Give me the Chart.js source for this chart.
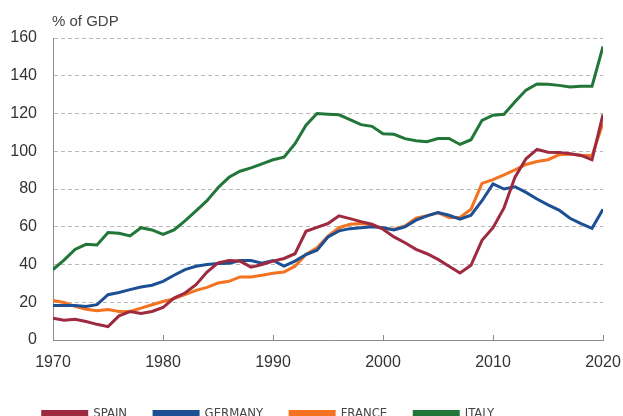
<!DOCTYPE html>
<html>
<head>
<meta charset="utf-8">
<script src="https://cdn.jsdelivr.net/npm/chart.js@4.4.1/dist/chart.umd.min.js"></script>
<style>
  html, body { margin: 0; padding: 0; background: #fff; overflow: hidden; }
  #wrap { width: 623px; height: 430px; position: relative; }
</style>
</head>
<body>
<div id="wrap"><canvas id="debtChart"></canvas></div>
<script>
var years = [];
for (var y = 1970; y <= 2020; y++) { years.push(y); }

var spain = [11.5, 10.5, 11, 9.8, 8.3, 7.1, 12.8, 15.1, 14, 15.1,
  17.2, 22.2, 24.9, 29.3, 36, 40.9, 42.1, 41.8, 38.6, 40,
  41.8, 43.2, 45.7, 57.6, 59.7, 61.7, 65.8, 64.3, 62.7, 61.3,
  58.7, 54.6, 51.5, 48, 45.7, 42.7, 39.1, 35.5, 39.6, 52.8,
  59.5, 70, 86.3, 96, 101, 99.5, 99.4, 98.7, 97.8, 95.5, 119.5];

var germany = [18.3, 18.3, 18.3, 17.8, 18.7, 24, 25.2, 26.7, 28.1, 29,
  31.1, 34.3, 37.3, 39.1, 40, 40.5, 40.7, 42.1, 42.1, 40.7,
  42.1, 39.1, 41.8, 45.3, 47.6, 54.6, 57.8, 59, 59.5, 60,
  59.5, 58.3, 60, 63.5, 65.8, 67.5, 66.1, 64, 66.1, 73.8,
  82.7, 80, 81.2, 78.2, 74.7, 71.6, 68.8, 64.5, 61.7, 59.2, 69.3];

var france = [21, 19.9, 17.8, 16.3, 15.5, 16.2, 15.1, 15.1, 16.9, 18.7,
  20.4, 21.9, 24, 26.3, 27.9, 30.2, 31.1, 33.4, 33.4, 34.3,
  35.4, 36, 39.1, 45.3, 48.9, 55.1, 59.5, 61.3, 61.7, 61,
  59, 58.7, 60.4, 64.5, 65.8, 67.5, 64.9, 64.9, 69.3, 83,
  85, 87.5, 90.1, 93, 94.6, 95.5, 98.1, 98.5, 97.9, 97.6, 115];

var italy = [37.3, 42.3, 48, 50.7, 50.3, 56.9, 56.5, 55.1, 59.5, 58.3,
  56, 58.3, 63.1, 68.4, 73.8, 80.7, 86.2, 89.4, 91.2, 93.3,
  95.5, 96.9, 104, 113.8, 120, 119.6, 119.3, 116.8, 114.1, 113.2,
  109.3, 109, 106.7, 105.6, 105.1, 106.7, 106.8, 103.6, 106.1, 116.4,
  119.1, 119.6, 126.2, 132.4, 135.6, 135.5, 134.9, 134, 134.4, 134.4, 155.5];

var countryNames = ["SPAIN", "GERMANY", "FRANCE", "ITALY"];
var countryColors = ["#9e2a40", "#1d4f94", "#f37321", "#217638"];
var yTicks = [0, 20, 40, 60, 80, 100, 120, 140, 160];
var xTicks = [1970, 1980, 1990, 2000, 2010, 2020];
var unitLabel = "% of GDP";

function toPoints(values) {
  var pts = [];
  for (var i = 0; i < values.length; i++) {
    pts.push({ x: years[i], y: values[i] });
  }
  return pts;
}

function makeDataset(i, values) {
  return {
    label: countryNames[i],
    data: toPoints(values),
    borderColor: countryColors[i],
    backgroundColor: countryColors[i],
    borderWidth: 3,
    pointRadius: 0,
    tension: 0,
    fill: false
  };
}

// small ticks pointing up from the x axis + the unit label
var extrasPlugin = {
  id: "extras",
  afterLayout: function (chart) {
    // legend sits a bit left of centre in the original
    chart.legend.left -= 33;
    chart.legend.right -= 33;
  },
  afterDraw: function (chart) {
    var ctx = chart.ctx, area = chart.chartArea, xs = chart.scales.x;
    ctx.save();
    ctx.strokeStyle = "#8c8c8c";
    ctx.lineWidth = 1;
    for (var i = 1; i < xTicks.length; i++) {
      var px = Math.round(xs.getPixelForValue(xTicks[i])) + 0.5;
      ctx.beginPath();
      ctx.moveTo(px, area.bottom - 5);
      ctx.lineTo(px, area.bottom);
      ctx.stroke();
    }
    ctx.fillStyle = "#444";
    ctx.font = "15px 'Liberation Sans', Arial, sans-serif";
    ctx.textBaseline = "middle";
    ctx.textAlign = "left";
    ctx.fillText(unitLabel, area.left - 1, 22);
    ctx.restore();
  }
};

new Chart(document.getElementById("debtChart"), {
  type: "line",
  data: {
    datasets: [
      makeDataset(0, spain),
      makeDataset(1, germany),
      makeDataset(2, france),
      makeDataset(3, italy)
    ]
  },
  options: {
    responsive: true,
    maintainAspectRatio: false,
    animation: false,
    layout: { padding: { top: 38, right: 20, left: 0, bottom: 0 } },
    plugins: {
      tooltip: { enabled: false },
      legend: {
        position: "bottom",
        labels: {
          boxWidth: 44,
          boxHeight: 4,
          padding: 27,
          color: "#444",
          font: { family: "'DejaVu Sans Condensed', 'Liberation Sans', Arial, sans-serif", size: 13 }
        }
      }
    },
    scales: {
      x: {
        type: "linear",
        min: 1970,
        max: 2020,
        afterBuildTicks: function (scale) {
          scale.ticks = xTicks.map(function (v) { return { value: v }; });
        },
        ticks: {
          color: "#333",
          padding: 5,
          maxRotation: 0,
          font: { family: "'Liberation Sans', Arial, sans-serif", size: 16 },
          callback: function (v) { return String(v); }
        },
        grid: { display: false },
        border: { display: true, color: "#8c8c8c", width: 1 },
        afterFit: function (scale) {
          scale.height = 40;
          scale.paddingLeft = 0;
          scale.paddingRight = 0;
        }
      },
      y: {
        min: 0,
        max: 160,
        afterBuildTicks: function (scale) {
          scale.ticks = yTicks.map(function (v) { return { value: v }; });
        },
        ticks: {
          color: "#333",
          padding: 16,
          font: { family: "'Liberation Sans', Arial, sans-serif", size: 16 }
        },
        grid: { color: "#b9b9b9", lineWidth: 1, drawTicks: false },
        border: { display: true, color: "#8c8c8c", width: 1, dash: [4, 3] },
        afterFit: function (scale) { scale.width = 53; }
      }
    }
  },
  plugins: [extrasPlugin]
});
</script>
</body>
</html>
